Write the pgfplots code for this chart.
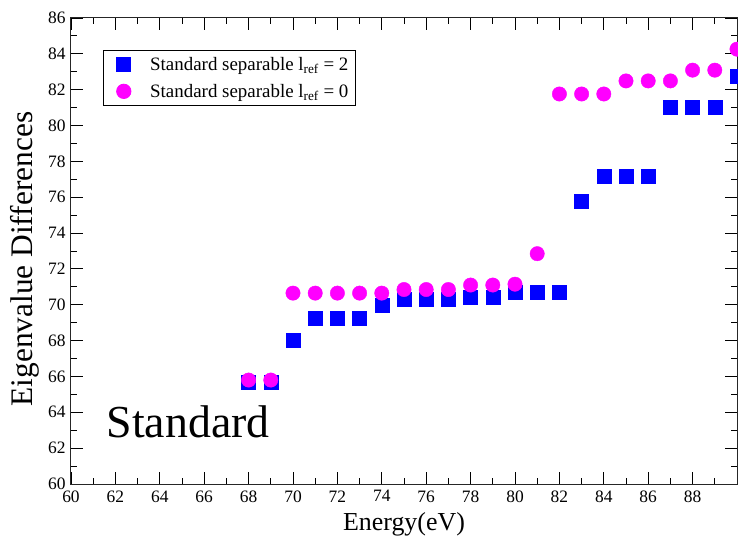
\documentclass[border=0pt]{standalone}
\usepackage{fontspec}
\setmainfont{Liberation Serif}
\usepackage{pgfplots}
\pgfplotsset{compat=1.18}
\definecolor{xblue}{RGB}{0,0,255}
\definecolor{xmag}{RGB}{255,0,255}
\begin{document}
\begin{tikzpicture}
\begin{axis}[
 scale only axis, width=666bp, height=466bp,
 xmin=60, xmax=90, ymin=60, ymax=86,
 xtick={60,62,...,88}, ytick={60,62,...,86},
 minor xtick={61,63,...,89}, minor ytick={61,63,...,85},
 tick align=inside, major tick length=12bp, minor tick length=6bp,
 tick style={black, line width=0.9bp},
 axis line style={line width=1bp, black!85},
 /pgf/number format/assume math mode=true,
 ticklabel style={font=\fontsize{17.5}{20}\selectfont},
 xticklabel style={yshift=-3bp},
 yticklabel style={xshift=-2bp},
 xlabel={Energy(eV)}, ylabel={Eigenvalue Differences},
 xlabel style={font=\fontsize{26}{30}\selectfont, at={(rel axis cs:0.5,0)}, anchor=base, yshift=-46bp},
 ylabel style={font=\fontsize{31.5}{36}\selectfont, at={(rel axis cs:0,0.5)}, anchor=base, yshift=38bp, xshift=-8bp},
 legend style={at={(rel axis cs:0,1)}, anchor=north west, xshift=32bp, yshift=-32bp,
   draw=black, line width=0.8bp, font=\fontsize{19}{22}\selectfont,
   row sep=6bp, inner sep=4bp, nodes={inner sep=3bp}},
 legend cell align=left,
 legend image code/.code={\draw[#1] plot coordinates {(0bp,0bp)}; \path (-16bp,0bp) (23bp,0bp);},
]
\addplot[only marks, mark=square*, mark size=7bp, color=xblue] coordinates {
(68,65.7) (69,65.7) (70,68.0) (71,69.25) (72,69.25) (73,69.25) (74,69.95)
(75,70.3) (76,70.3) (77,70.3) (78,70.42) (79,70.42) (80,70.68) (81,70.7) (82,70.7)
(83,75.8) (84,77.15) (85,77.15) (86,77.15) (87,81.02) (88,81.02) (89,81.02) (90,82.75)
};
\addlegendentry{Standard separable l\textsubscript{ref} = 2}
\addplot[only marks, mark=*, mark size=7.2bp, color=xmag] coordinates {
(68,65.8) (69,65.8) (70,70.65) (71,70.65) (72,70.65) (73,70.65) (74,70.65)
(75,70.85) (76,70.85) (77,70.85) (78,71.1) (79,71.1) (80,71.15) (81,72.85)
(82,81.76) (83,81.76) (84,81.76) (85,82.49) (86,82.49) (87,82.49) (88,83.09) (89,83.09) (90,84.26)
};
\addlegendentry{Standard separable l\textsubscript{ref} = 0}
\node[anchor=base west, inner sep=0, font=\fontsize{46}{52}\selectfont] at (axis cs:61.6,62.62) {Standard};
\end{axis}
\pgfresetboundingbox
\path (-71bp,-52bp) rectangle (667bp,484bp);
\end{tikzpicture}
\end{document}
